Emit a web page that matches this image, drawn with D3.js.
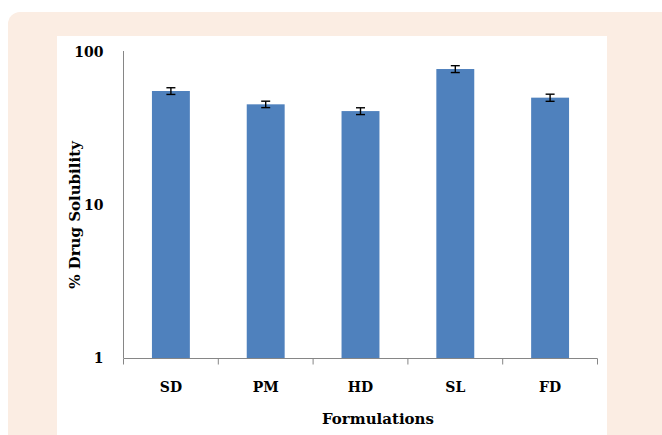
<!DOCTYPE html>
<html>
<head>
<meta charset="utf-8">
<script src="https://cdn.jsdelivr.net/npm/d3@7"></script>
<style>
  html, body { margin: 0; padding: 0; background: #ffffff; }
  svg { display: block; }
</style>
</head>
<body>
<svg id="chart" width="662" height="435"></svg>
<script>
// Solubility of each formulation (%), with error bar half-widths
const categories = ["SD", "PM", "HD", "SL", "FD"];
const solubility = [55.6, 45.5, 41.1, 77.4, 50.3];
const errors = [2.8, 2.2, 2.1, 4.0, 2.7];
const yTicks = [1, 10, 100];

const svg = d3.select("#chart");
const W = 662, H = 435;
const font = "'DejaVu Serif', serif";

// Framing: peach card with white plot panel
svg.append("rect")
  .attr("x", 8).attr("y", 12)
  .attr("width", W + 10).attr("height", H + 10)
  .attr("rx", 12).attr("ry", 12)
  .attr("fill", "#fbede3");
svg.append("rect")
  .attr("x", 57).attr("y", 36)
  .attr("width", 550).attr("height", H)
  .attr("fill", "#ffffff");

const x = d3.scaleBand()
  .domain(categories)
  .range([123.5, 597.5])
  .paddingInner(0.6)
  .paddingOuter(0.3);

const y = d3.scaleLog()
  .domain([1, 100])
  .range([358, 52]);

const axisColor = "#868686";

// Bars
svg.append("g").selectAll("rect")
  .data(categories)
  .join("rect")
  .attr("x", d => x(d))
  .attr("width", x.bandwidth())
  .attr("y", (d, i) => y(solubility[i]))
  .attr("height", (d, i) => y(1) - y(solubility[i]))
  .attr("fill", "#4f81bd");

// Error bars
const eb = svg.append("g").attr("stroke", "#000").attr("stroke-width", 1.4);
categories.forEach((c, i) => {
  const cx = x(c) + x.bandwidth() / 2;
  const hi = y(solubility[i] + errors[i]);
  const lo = y(solubility[i] - errors[i]);
  eb.append("line").attr("x1", cx).attr("x2", cx).attr("y1", hi).attr("y2", lo);
  eb.append("line").attr("x1", cx - 4.5).attr("x2", cx + 4.5).attr("y1", hi).attr("y2", hi);
  eb.append("line").attr("x1", cx - 4.5).attr("x2", cx + 4.5).attr("y1", lo).attr("y2", lo);
});

// Y axis (log)
const yAxis = svg.append("g")
  .attr("transform", "translate(123.5,0)")
  .call(d3.axisLeft(y).tickValues(yTicks).tickFormat(d3.format("d")).tickSize(0).tickPadding(20));
yAxis.select(".domain").attr("stroke", axisColor).attr("d", `M0,${y(100) - 1}V${y(1)}`);
yAxis.selectAll("text")
  .attr("font-family", font).attr("font-size", 14).attr("font-weight", "bold")
  .attr("fill", "#000");

// X axis with ticks at band boundaries
const xAxisG = svg.append("g").attr("transform", `translate(0,${y(1) + 0.5})`);
xAxisG.append("line")
  .attr("x1", 123.5).attr("x2", 597.5)
  .attr("stroke", axisColor);
const step = x.step();
const bounds = d3.range(categories.length + 1).map(i => 123.5 + i * step);
xAxisG.selectAll(".bt")
  .data(bounds)
  .join("line")
  .attr("x1", d => d).attr("x2", d => d)
  .attr("y1", 0).attr("y2", 6)
  .attr("stroke", axisColor);
xAxisG.selectAll(".lab")
  .data(categories)
  .join("text")
  .attr("x", d => x(d) + x.bandwidth() / 2)
  .attr("y", 33)
  .attr("text-anchor", "middle")
  .attr("font-family", font).attr("font-size", 14).attr("font-weight", "bold")
  .text(d => d);

// Axis titles
svg.append("text")
  .attr("x", 378).attr("y", 424)
  .attr("text-anchor", "middle")
  .attr("font-family", font).attr("font-size", 15).attr("font-weight", "bold")
  .text("Formulations");
svg.append("text")
  .attr("transform", "translate(80,215) rotate(-90)")
  .attr("text-anchor", "middle")
  .attr("font-family", font).attr("font-size", 15).attr("font-weight", "bold")
  .text("% Drug Solubility");
</script>
</body>
</html>
